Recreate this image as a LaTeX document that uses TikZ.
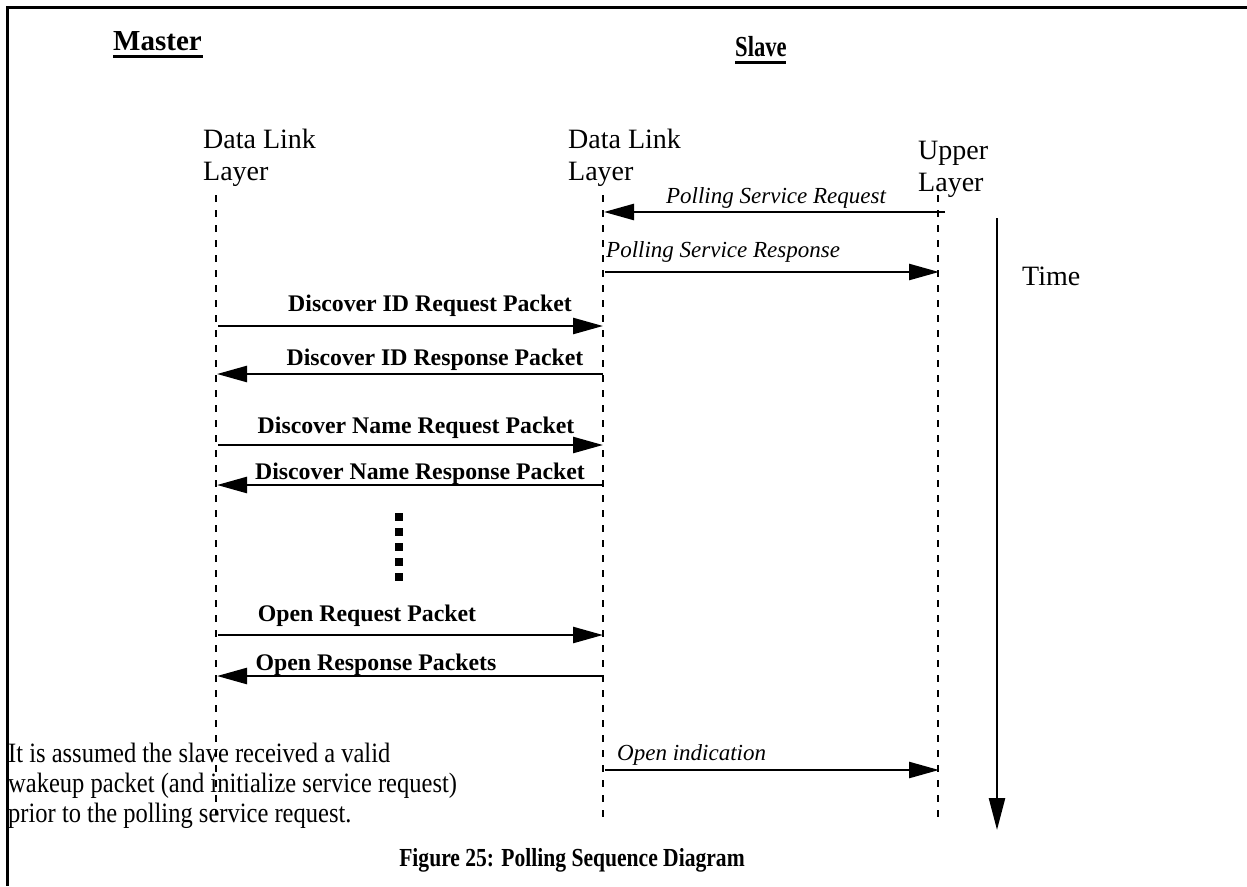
\documentclass[tikz,border=0pt]{standalone}
\usepackage{fontspec}
\setmainfont{Liberation Serif}
\usetikzlibrary{arrows.meta}
\begin{document}
\begin{tikzpicture}[x=1pt,y=-1pt,
  lifeline/.style={line width=2pt,dash pattern=on 7pt off 8pt},
  msg/.style={line width=2.5pt,-{Triangle[length=30pt,width=16pt]}},
  bmsg/.style={inner sep=0pt,anchor=base,font=\fontsize{23.8}{27}\selectfont\bfseries},
  imsg/.style={inner sep=0pt,font=\fontsize{23}{27}\selectfont\itshape},
  layer/.style={inner sep=0pt,anchor=north west,align=left,font=\fontsize{28}{32}\selectfont},
  head/.style={inner sep=0pt,anchor=base west,font=\fontsize{29}{32}\selectfont\bfseries},
  dot/.style={fill=black,draw=none,minimum size=8pt,inner sep=0pt},
]
\useasboundingbox (0,0) rectangle (1247,886);
% frame
\draw[line width=3pt] (1247,7) -- (7,7) -- (7,886);

% column headings
\node[head] (master) at (113,50) {Master};
\draw[line width=3pt] (master.base west) ++(0,6) -- ++(90,0);
\node[head] (slave) at (735,56) {\scalebox{0.78}[1]{Slave}};
\draw[line width=3pt] (slave.base west) ++(0,6) -- ++(51,0);

% layers
\node[layer] (mdl) at (203,129) {Data Link\\Layer};
\node[layer] (sdl) at (568,129) {Data Link\\Layer};
\node[layer] (upl) at (918,141) {Upper\\Layer};

% lifelines
\coordinate (mT) at (216,195); \coordinate (mB) at (216,815);
\coordinate (sT) at (603,195); \coordinate (sB) at (603,820);
\coordinate (uT) at (938,195); \coordinate (uB) at (938,820);
\draw[lifeline] (mT) -- (mB);
\draw[lifeline] (sT) -- (sB);
\draw[lifeline] (uT) -- (uB);

% Polling service request / response
\coordinate (u1) at (945,212); \coordinate (s1) at (604,212);
\draw[msg] (u1) -- (s1);
\node[imsg,anchor=base] (l1) at (776,203) {Polling Service Request};
\coordinate (s2) at (605,272); \coordinate (u2) at (939,272);
\draw[msg] (s2) -- (u2);
\node[imsg,anchor=base west] (l2) at (606,257) {Polling Service Response};

% Discover ID
\coordinate (m3) at (218,326); \coordinate (s3) at (603,326);
\draw[msg] (m3) -- (s3);
\node[bmsg] (l3) at (430,311) {Discover ID Request Packet};
\coordinate (s4) at (603,374); \coordinate (m4) at (217,374);
\draw[msg] (s4) -- (m4);
\node[bmsg] (l4) at (435,365) {Discover ID Response Packet};

% Discover Name
\coordinate (m5) at (218,445); \coordinate (s5) at (603,445);
\draw[msg] (m5) -- (s5);
\node[bmsg] (l5) at (416,433) {Discover Name Request Packet};
\coordinate (s6) at (603,485); \coordinate (m6) at (217,485);
\draw[msg] (s6) -- (m6);
\node[bmsg] (l6) at (420,479) {Discover Name Response Packet};

% ellipsis
\foreach \i [count=\k] in {517,532,547,562,577}
  \node[dot] (d\k) at (399,\i) {};

% Open
\coordinate (m7) at (218,635); \coordinate (s7) at (603,635);
\draw[msg] (m7) -- (s7);
\node[bmsg] (l7) at (367,621) {Open Request Packet};
\coordinate (s8) at (603,676); \coordinate (m8) at (217,676);
\draw[msg] (s8) -- (m8);
\node[bmsg] (l8) at (376,670) {Open Response Packets};

% Open indication
\coordinate (s9) at (605,770); \coordinate (u9) at (939,770);
\draw[msg] (s9) -- (u9);
\node[imsg,anchor=base west] (l9) at (617,760) {Open indication};

% time axis
\coordinate (tT) at (997,218); \coordinate (tB) at (997,830);
\draw[line width=2.5pt,-{Triangle[length=32pt,width=16pt]}] (tT) -- (tB);
\node[inner sep=0pt,anchor=base west,font=\fontsize{28}{32}\selectfont] (time) at (1022,285) {Time};

% note (base anchor sits on the last line)
\node[inner sep=0pt,anchor=base west,align=left,font=\fontsize{28}{30}\selectfont] (note) at (8,822)
  {\scalebox{0.876}[1]{It is assumed the slave received a valid}\\
   \scalebox{0.876}[1]{wakeup packet (and initialize service request)}\\
   \scalebox{0.876}[1]{prior to the polling service request.}};

% caption
\node[inner sep=0pt,anchor=base,font=\fontsize{26}{30}\selectfont\bfseries] (caption) at (572,866)
  {\scalebox{0.83}[1]{Figure 25: Polling Sequence Diagram}};
\end{tikzpicture}
\end{document}
